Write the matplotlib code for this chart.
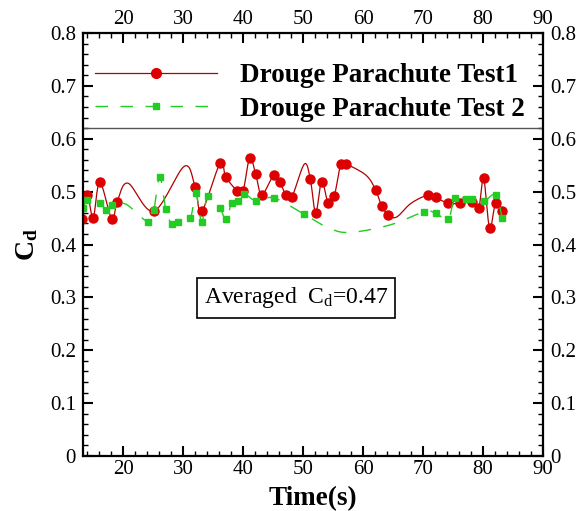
import numpy as np
import matplotlib
matplotlib.use("Agg")
import matplotlib.pyplot as plt
from matplotlib.ticker import MultipleLocator

plt.rcParams['font.family'] = ['Liberation Serif', 'DejaVu Serif']
plt.rcParams['mathtext.fontset'] = 'custom'
plt.rcParams['mathtext.rm'] = 'Liberation Serif'
plt.rcParams['mathtext.it'] = 'Liberation Serif:italic'
plt.rcParams['mathtext.bf'] = 'Liberation Serif:bold'

# Test 1 (curve points; mark1 = drawn with a symbol)
t1 = [13.1, 14.0, 15.0, 16.1, 18.1, 19.0, 20.8, 25.1, 30.2, 32.0, 33.1, 36.2, 37.1, 39.0,
      40.0, 41.1, 42.1, 43.1, 45.1, 46.1, 47.1, 48.1, 50.2, 51.2, 52.1, 53.1, 54.2, 55.2,
      56.3, 57.2, 60.5, 62.1, 63.1, 64.2, 65.6, 68.0, 70.9, 72.1, 74.2, 76.1, 78.2, 79.3,
      80.1, 81.1, 82.1, 83.2]
cd1 = [0.448, 0.494, 0.451, 0.518, 0.448, 0.481, 0.516, 0.463, 0.548, 0.508, 0.463, 0.555,
       0.528, 0.502, 0.502, 0.564, 0.533, 0.494, 0.531, 0.519, 0.494, 0.489, 0.552, 0.524,
       0.460, 0.519, 0.478, 0.492, 0.552, 0.552, 0.531, 0.503, 0.473, 0.456, 0.452, 0.478,
       0.494, 0.489, 0.478, 0.478, 0.480, 0.470, 0.525, 0.431, 0.478, 0.464]
mark1 = [1, 1, 1, 1, 1, 1, 0, 1, 0, 1, 1, 1, 1, 1, 1, 1, 1, 1, 1, 1, 1, 1, 0, 1, 1, 1, 1, 1,
         1, 1, 0, 1, 1, 1, 0, 0, 1, 1, 1, 1, 1, 1, 1, 1, 1, 1]

# Test 2
t2 = [13.3, 14.0, 16.2, 17.1, 18.2, 20.5, 24.1, 25.1, 26.1, 27.1, 28.1, 29.1, 31.2, 32.1,
      33.1, 34.1, 36.1, 37.1, 38.1, 39.1, 40.1, 42.1, 45.2, 50.2, 54.5, 58.0, 64.5, 70.2,
      72.1, 74.2, 75.3, 77.2, 78.2, 80.1, 82.1, 83.2]
cd2 = [0.470, 0.484, 0.478, 0.465, 0.475, 0.476, 0.443, 0.465, 0.528, 0.467, 0.438, 0.442,
       0.451, 0.498, 0.443, 0.492, 0.470, 0.448, 0.478, 0.482, 0.496, 0.483, 0.488, 0.457,
       0.430, 0.423, 0.437, 0.462, 0.459, 0.448, 0.488, 0.486, 0.486, 0.482, 0.494, 0.450]
mark2 = [1, 1, 1, 1, 1, 0, 1, 1, 1, 1, 1, 1, 1, 1, 1, 1, 1, 1, 1, 1, 1, 1, 1, 1, 0, 0, 0, 1,
         1, 1, 1, 1, 1, 1, 1, 1]

xticks = [20, 30, 40, 50, 60, 70, 80, 90]
yticks = [0, 0.1, 0.2, 0.3, 0.4, 0.5, 0.6, 0.7, 0.8]
ylabels = ['0', '0.1', '0.2', '0.3', '0.4', '0.5', '0.6', '0.7', '0.8']


def smooth(x, y, n=16):
    # Catmull-Rom curve through the points
    p = np.column_stack([x, y]).astype(float)
    p = np.vstack([p[0], p, p[-1]])
    out = []
    s = np.linspace(0, 1, n, endpoint=False)[:, None]
    for i in range(1, len(p) - 2):
        p0, p1, p2, p3 = p[i - 1], p[i], p[i + 1], p[i + 2]
        seg = 0.5 * ((2 * p1) + (-p0 + p2) * s + (2 * p0 - 5 * p1 + 4 * p2 - p3) * s ** 2
                     + (-p0 + 3 * p1 - 3 * p2 + p3) * s ** 3)
        out.append(seg)
    out.append(p[-2][None, :])
    out = np.vstack(out)
    return out[:, 0], out[:, 1]


fig = plt.figure(figsize=(5.87, 5.11), dpi=100)
ax = fig.add_axes([0.1414, 0.1076, 0.7836, 0.8278])

red = '#dd0000'
green = '#22cc22'

sx, sy = smooth(t1, cd1)
ax.plot(sx, sy, color='#b00000', lw=0.9)
m1 = np.array(mark1, bool)
ax.plot(np.array(t1)[m1], np.array(cd1)[m1], 'o', color=red, ms=6.5, ls='none')

sx, sy = smooth(t2, cd2)
ax.plot(sx, sy, color=green, lw=1.0, dashes=(9, 9))
m2 = np.array(mark2, bool)
ax.plot(np.array(t2)[m2], np.array(cd2)[m2], 's', color=green, ms=5, ls='none')

# legend handles
h1, = ax.plot([], [], color='#b00000', lw=0.9, marker='o', ms=7, mfc=red, mec=red)
h2, = ax.plot([], [], color=green, lw=1.0, dashes=(9, 9), marker='s', ms=5)
ax.legend([h1, h2], ['Drouge Parachute Test1', 'Drouge Parachute Test 2'],
          loc='upper left', bbox_to_anchor=(0.026, 0.928), borderaxespad=0, borderpad=0,
          frameon=False, handlelength=4.5, handletextpad=0.85, labelspacing=0.3,
          prop={'family': 'Liberation Serif', 'weight': 'bold', 'size': 19.5})
ax.axhline(0.62, color='#555555', lw=1.0)

ax.text(48.8, 0.299, r'Averaged  C$_{\rm d}$=0.47', fontsize=17, ha='center', va='center',
        bbox=dict(boxstyle='square,pad=0.3', fc='white', ec='black', lw=1.2))

ax.set_xlim(13.3, 90)
ax.set_ylim(0, 0.8)
ax.set_xticks(xticks)
ax.set_yticks(yticks)
ax.set_yticklabels(ylabels)
ax.xaxis.set_minor_locator(MultipleLocator(2))
ax.yaxis.set_minor_locator(MultipleLocator(0.02))
ax.tick_params(which='both', direction='in', top=True, right=True,
               labeltop=True, labelright=True, labelsize=15)
ax.tick_params(which='major', length=7, width=1.5)
ax.tick_params(axis='x', which='major', pad=3)
ax.tick_params(axis='y', which='major', pad=5)
ax.tick_params(which='minor', length=3.5, width=1.0)
for s in ax.spines.values():
    s.set_linewidth(1.6)

ax.set_xlabel('Time(s)', fontsize=19.5, fontweight='bold', labelpad=5)
ax.set_ylabel(r'$\mathbf{C}_\mathbf{d}$', fontsize=20, labelpad=7)

fig.savefig('out.png', dpi=100)
